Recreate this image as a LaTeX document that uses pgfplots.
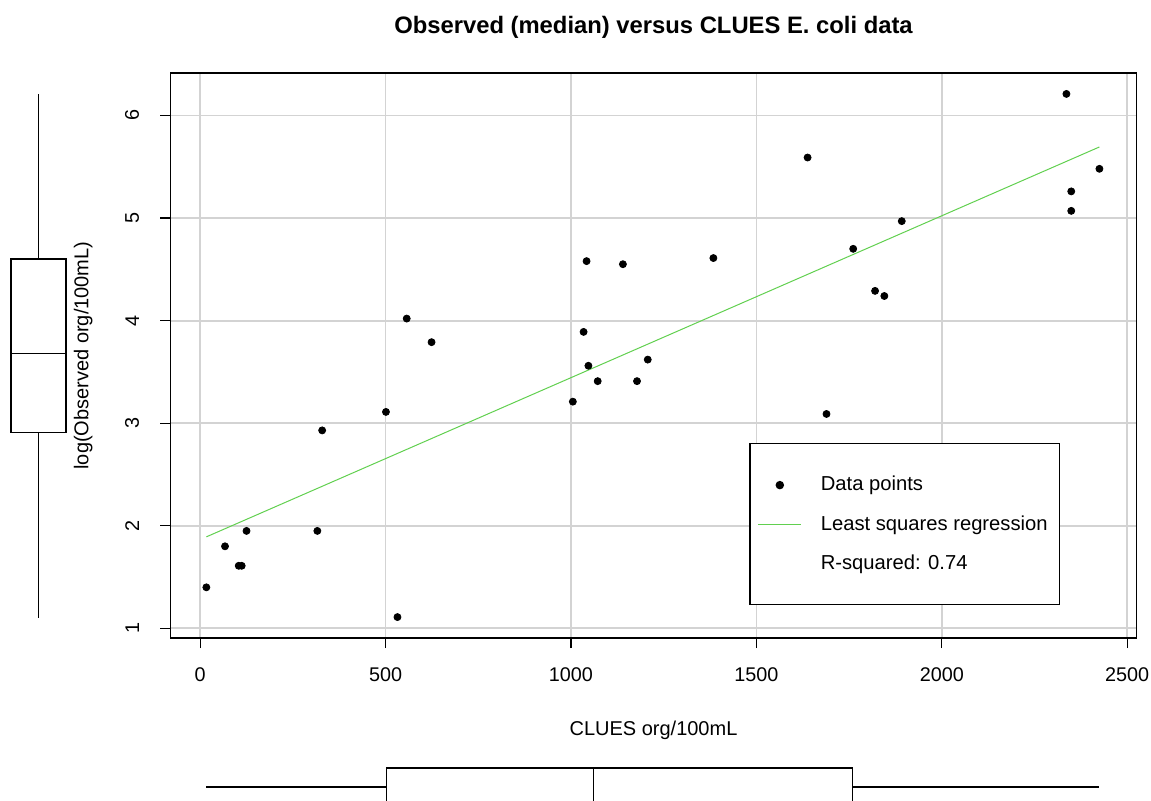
\documentclass[border=0pt]{standalone}
\usepackage{fontspec}
\setmainfont{Liberation Sans}
\usepackage{pgfplots}
\pgfplotsset{compat=1.18}
\usepgfplotslibrary{statistics}
\definecolor{rgreen}{HTML}{61D04F}
\definecolor{rgrid}{HTML}{D3D3D3}

\pgfplotstableread{
x y
16.7 1.40
67 1.80
104 1.61
112 1.61
125 1.95
316 1.95
329 2.93
501 3.11
532 1.11
557 4.02
624 3.79
1005 3.21
1034 3.89
1042 4.58
1047 3.56
1072 3.41
1140 4.55
1178 3.41
1207 3.62
1384 4.61
1638 5.59
1689 3.09
1761 4.70
1820 4.29
1845 4.24
1892 4.97
2336 6.21
2349 5.26
2349 5.07
2425 5.48
}\datatable

\begin{document}
\begin{tikzpicture}
\useasboundingbox (-85.25pt,-81pt) rectangle (490.25pt,319pt);
\begin{axis}[name=main, at={(0pt,0pt)}, anchor=south west,
  scale only axis, width=483pt, height=282.5pt,
  xmin=-80, xmax=2525, ymin=0.906, ymax=6.414,
  xtick={0,500,...,2500}, ytick={1,2,3,4,5,6},
  xtick pos=bottom, ytick pos=left,
  grid=major, major grid style={line width=0.9pt, color=rgrid},
  tick align=outside, major tick length=5pt,
  tick style={black, line width=0.6pt},
  axis line style={line width=0.65pt},
  /pgf/number format/assume math mode=true,
  /pgf/number format/1000 sep={},
  tick label style={font=\fontsize{9.9}{12}\selectfont},
  xticklabel shift=6.2pt,
  yticklabel style={rotate=90, anchor=south},
  yticklabel shift=7.2pt,
  title={\bfseries Observed (median) versus CLUES E. coli data},
  every axis title/.style={at={(axis description cs:0.5,1.0814)}, anchor=center, font=\fontsize{11.9}{14}\selectfont},
  xlabel={CLUES org/100mL},
  ylabel={log(Observed org/100mL)},
  every axis x label/.style={at={(axis description cs:0.5,-0.1628)}, anchor=center, font=\fontsize{10}{12}\selectfont},
  every axis y label/.style={at={(axis description cs:-0.0903,0.5)}, rotate=90, anchor=center, font=\fontsize{10}{12}\selectfont},
  legend image code/.code={\draw[mark repeat=2,mark phase=2] plot coordinates {(0pt,0pt)(10.75pt,0pt)(21.5pt,0pt)};},
  legend style={at={(0.599,0.345)}, anchor=north west, draw=black, line width=0.7pt, fill=white,
    font=\fontsize{10.1}{12}\selectfont, inner xsep=4pt, inner ysep=14.25pt, row sep=6.75pt, column sep=7.5pt},
  legend cell align=left,
]
\addplot[only marks, mark=*, mark size=1.75pt, color=black] table[x=x,y=y]{\datatable};
\addlegendentry{Data points}
\addplot[rgreen, line width=0.5pt] coordinates {(16.7,1.892) (2425,5.693)};
\addlegendentry{Least squares regression}
\addlegendimage{empty legend}
\addlegendentry{R-squared: 0.74}
\end{axis}

\begin{axis}[at={(-85.25pt,0pt)}, anchor=south west, scale only axis,
  width=85.25pt, height=282.5pt, xmin=0, xmax=170.5, ymin=0.906, ymax=6.414, hide axis]
\addplot[black, line width=0.6pt, boxplot/draw direction=y,
  boxplot prepared={draw position=38.5, box extend=55, whisker extend=0,
    lower whisker=1.1, lower quartile=2.91, median=3.68, upper quartile=4.60, upper whisker=6.21}]
  coordinates {};
\end{axis}

\begin{axis}[at={(0pt,-81pt)}, anchor=south west, scale only axis,
  width=483pt, height=20pt, xmin=-80, xmax=2525, ymin=0, ymax=40, hide axis]
\addplot[black, line width=0.6pt,
  boxplot prepared={draw position=13, box extend=38, whisker extend=0,
    lower whisker=17, lower quartile=502, median=1060, upper quartile=1760, upper whisker=2425}]
  coordinates {};
\end{axis}
\end{tikzpicture}
\end{document}
